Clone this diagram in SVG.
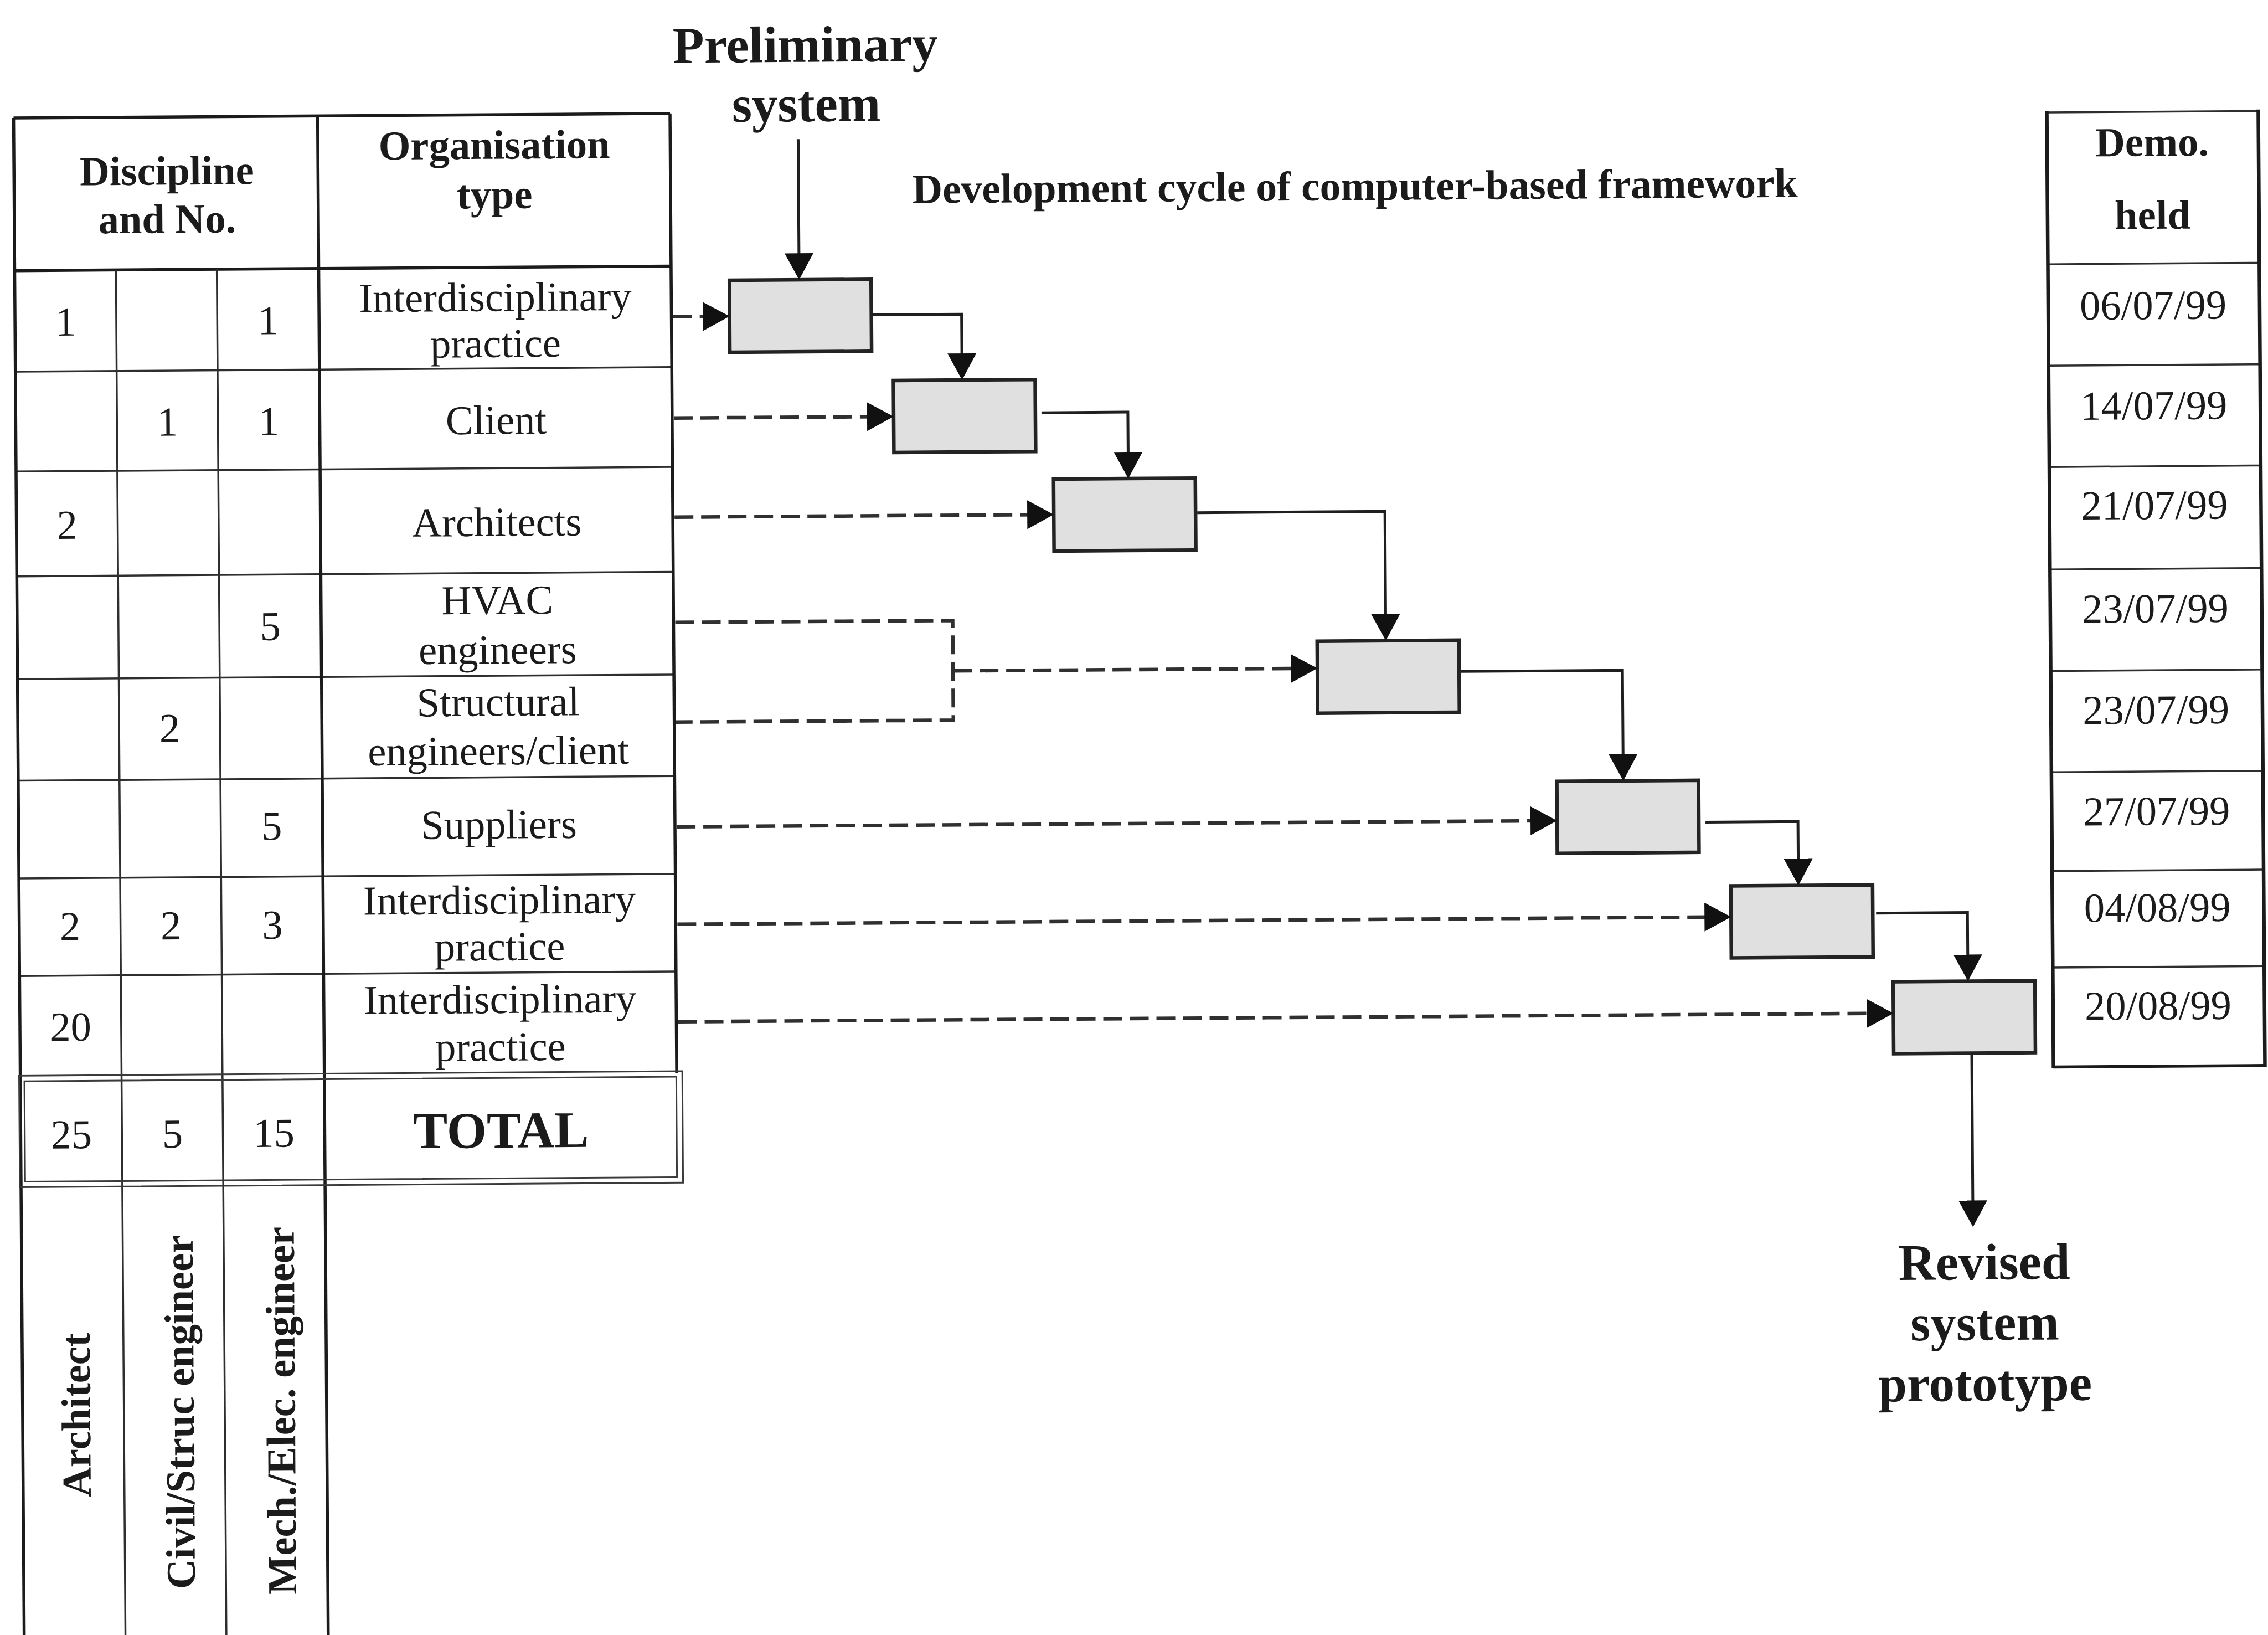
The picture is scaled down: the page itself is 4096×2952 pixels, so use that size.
<svg xmlns="http://www.w3.org/2000/svg" width="4096" height="2952" viewBox="0 0 4096 2952">
  <defs>
    <style>
      .t { font-family: "Liberation Serif", "Times New Roman", serif; font-size: 74.5px; fill: #1b1b1b; text-anchor: middle; }
      .b { font-weight: bold; }
      .big { font-size: 93px; font-weight: bold; }
      .thick { stroke: #1b1b1b; stroke-width: 5.5; fill: none; }
      .thin { stroke: #2e2e2e; stroke-width: 3.5; fill: none; }
      .frame { stroke: #3a3a3a; stroke-width: 3; fill: none; }
      .box { fill: #e0e0e0; stroke: #232323; stroke-width: 6.5; }
      .flow { stroke: #1f1f1f; stroke-width: 5; fill: none; marker-end: url(#ah); }
      .dash { stroke: #303030; stroke-width: 6.5; stroke-dasharray: 34 14; fill: none; }
      .dash-arrow { marker-end: url(#ah); }
    </style>
    <marker id="ah" markerUnits="userSpaceOnUse" markerWidth="48" markerHeight="52" viewBox="0 0 48 52" refX="28" refY="26" orient="auto">
      <path d="M0,0 L48,26 L0,52 Z" fill="#111"/>
    </marker>
  </defs>

  <rect x="0" y="0" width="4096" height="2952" fill="#ffffff"/>

  <!-- whole sheet sits at a slight tilt -->
  <g transform="rotate(-0.4 2048 1476)">

    <!-- participants table -->
    <g id="participants-table">
      <g id="table-grid">
        <line class="thick" x1="33.4" y1="199" x2="1218.9" y2="199"/>
        <line class="thick" x1="33.4" y1="474.6" x2="1218.9" y2="474.6"/>
        <line class="thin" x1="33.4" y1="657" x2="1218.9" y2="657"/>
        <line class="thin" x1="33.4" y1="837.2" x2="1218.9" y2="837.2"/>
        <line class="thin" x1="33.4" y1="1026.6" x2="1218.9" y2="1026.6"/>
        <line class="thin" x1="33.4" y1="1212.1" x2="1218.9" y2="1212.1"/>
        <line class="thin" x1="33.4" y1="1395.4" x2="1218.9" y2="1395.4"/>
        <line class="thin" x1="33.4" y1="1572" x2="1218.9" y2="1572"/>
        <line class="thin" x1="33.4" y1="1748.1" x2="1218.9" y2="1748.1"/>
        <line class="thick" x1="33.4" y1="199" x2="33.4" y2="2990"/>
        <line class="thin" x1="216.3" y1="474.6" x2="216.3" y2="2990"/>
        <line class="thin" x1="398.6" y1="474.6" x2="398.6" y2="2990"/>
        <line class="thick" x1="582.5" y1="199" x2="582.5" y2="2990"/>
        <line class="thick" x1="1218.9" y1="199" x2="1218.9" y2="1932"/>
        <!-- double frame round the totals row -->
        <rect class="frame" x="31.3" y="1928.3" width="1197.7" height="201.2"/>
        <rect class="frame" x="40.8" y="1938.2" width="1177.3" height="181.4"/>
      </g>

      <g id="table-header">
        <text class="t b" x="309.5" y="321.3">Discipline</text>
        <text class="t b" x="309.5" y="408.3">and No.</text>
        <text class="t b" x="901" y="278.7">Organisation</text>
        <text class="t b" x="901" y="368.1">type</text>
      </g>

      <g id="row-1">
        <text class="t" x="125" y="592.4">1</text>
        <text class="t" x="490.6" y="592.4">1</text>
        <text class="t" x="901" y="553.5">Interdisciplinary</text>
        <text class="t" x="901" y="636.9">practice</text>
      </g>
      <g id="row-2">
        <text class="t" x="307.5" y="774.5">1</text>
        <text class="t" x="490.6" y="774.5">1</text>
        <text class="t" x="901" y="775.5">Client</text>
      </g>
      <g id="row-3">
        <text class="t" x="125" y="959.5">2</text>
        <text class="t" x="901" y="959.7">Architects</text>
      </g>
      <g id="row-4">
        <text class="t" x="490.6" y="1144.9">5</text>
        <text class="t" x="901" y="1100.5">HVAC</text>
        <text class="t" x="901" y="1190.1">engineers</text>
      </g>
      <g id="row-5">
        <text class="t" x="307.5" y="1327.8">2</text>
        <text class="t" x="901" y="1284.4">Structural</text>
        <text class="t" x="901" y="1372.4">engineers/client</text>
      </g>
      <g id="row-6">
        <text class="t" x="490.6" y="1505.5">5</text>
        <text class="t" x="901" y="1505.7">Suppliers</text>
      </g>
      <g id="row-7">
        <text class="t" x="125" y="1684.1">2</text>
        <text class="t" x="307.5" y="1684.1">2</text>
        <text class="t" x="490.6" y="1684.1">3</text>
        <text class="t" x="901" y="1641.8">Interdisciplinary</text>
        <text class="t" x="901" y="1725.9">practice</text>
      </g>
      <g id="row-8">
        <text class="t" x="125" y="1865.6">20</text>
        <text class="t" x="901" y="1821.2">Interdisciplinary</text>
        <text class="t" x="901" y="1906.9">practice</text>
      </g>
      <g id="row-total">
        <text class="t" x="125" y="2060">25</text>
        <text class="t" x="307.5" y="2060">5</text>
        <text class="t" x="490.6" y="2060">15</text>
        <text class="t big" x="901" y="2064">TOTAL</text>
      </g>

      <g id="discipline-names">
        <text class="t b" transform="translate(155.4 2541.4) rotate(-90)">Architect</text>
        <text class="t b" transform="translate(342.5 2537.5) rotate(-90)">Civil/Struc engineer</text>
        <text class="t b" transform="translate(525.3 2536.2) rotate(-90)">Mech./Elec. engineer</text>
      </g>
    </g>

    <!-- demonstration dates -->
    <g id="demo-dates">
      <line class="thin" x1="3705.4" y1="214.5" x2="4087.3" y2="214.5"/>
      <line class="thin" x1="3705.4" y1="488.7" x2="4087.3" y2="488.7"/>
      <line class="thin" x1="3705.4" y1="671.9" x2="4087.3" y2="671.9"/>
      <line class="thin" x1="3705.4" y1="854.7" x2="4087.3" y2="854.7"/>
      <line class="thin" x1="3705.4" y1="1039.9" x2="4087.3" y2="1039.9"/>
      <line class="thin" x1="3705.4" y1="1223" x2="4087.3" y2="1223"/>
      <line class="thin" x1="3705.4" y1="1405.9" x2="4087.3" y2="1405.9"/>
      <line class="thin" x1="3705.4" y1="1584.3" x2="4087.3" y2="1584.3"/>
      <line class="thin" x1="3705.4" y1="1758.5" x2="4087.3" y2="1758.5"/>
      <line class="thick" x1="3705.4" y1="1938" x2="4087.3" y2="1938"/>
      <line class="thick" x1="3705.4" y1="212" x2="3705.4" y2="1940.5" style="stroke-width:6.5"/>
      <line class="thick" x1="4087.3" y1="212" x2="4087.3" y2="1940.5" style="stroke-width:6.5"/>
      <text class="t b" x="3895" y="294.4">Demo.</text>
      <text class="t b" x="3895" y="426">held</text>
      <text class="t" x="3895" y="589">06/07/99</text>
      <text class="t" x="3895" y="770">14/07/99</text>
      <text class="t" x="3895" y="950">21/07/99</text>
      <text class="t" x="3895" y="1136.5">23/07/99</text>
      <text class="t" x="3895" y="1319.5">23/07/99</text>
      <text class="t" x="3895" y="1502.5">27/07/99</text>
      <text class="t" x="3895" y="1676.5">04/08/99</text>
      <text class="t" x="3895" y="1853.5">20/08/99</text>
    </g>

    <!-- captions -->
    <g id="label-preliminary">
      <text class="t big" x="1464" y="107.6">Preliminary</text>
      <text class="t big" x="1465" y="215">system</text>
    </g>
    <g id="title">
      <text class="t b" x="1655.6" y="364.1" style="text-anchor:start;font-size:75.5px">Development cycle of computer-based framework</text>
    </g>
    <g id="label-revised">
      <text class="t big" x="3578" y="2320.7">Revised</text>
      <text class="t big" x="3578" y="2430.1">system</text>
      <text class="t big" x="3578" y="2539.8">prototype</text>
    </g>

    <!-- development stages -->
    <g id="stage-1"><rect class="box" x="1324" y="501" width="256" height="130"/></g>
    <g id="stage-2"><rect class="box" x="1619" y="684" width="256" height="130"/></g>
    <g id="stage-3"><rect class="box" x="1907" y="864" width="256" height="130"/></g>
    <g id="stage-4"><rect class="box" x="2381" y="1160" width="256" height="130"/></g>
    <g id="stage-5"><rect class="box" x="2812" y="1416" width="256" height="130"/></g>
    <g id="stage-6"><rect class="box" x="3125" y="1607" width="256" height="130"/></g>
    <g id="stage-7"><rect class="box" x="3417" y="1782" width="256" height="130"/></g>

    <!-- connectors -->
    <g id="connectors">
      <!-- stage to stage -->
      <path class="flow" d="M1450,247 V481"/>
      <path class="flow" d="M1580,565 H1743 V664"/>
      <path class="flow" d="M1886,744 H2042 V844"/>
      <path class="flow" d="M2166,926.5 H2505 V1140"/>
      <path class="flow" d="M2640,1216.5 H2932 V1396"/>
      <path class="flow" d="M3080,1491.6 H3247 V1587"/>
      <path class="flow" d="M3387,1658 H3552 V1762"/>
      <path class="flow" d="M3558,1912 V2206"/>
      <!-- feedback from participants -->
      <path class="dash dash-arrow" d="M1222,566 H1304"/>
      <path class="dash dash-arrow" d="M1222,749 H1599"/>
      <path class="dash dash-arrow" d="M1222,928 H1887"/>
      <path class="dash" d="M1222,1118 H1723 V1298 H1222"/>
      <path class="dash dash-arrow" d="M1723,1209 H2361"/>
      <path class="dash dash-arrow" d="M1222,1487 H2792"/>
      <path class="dash dash-arrow" d="M1222,1663 H3105"/>
      <path class="dash dash-arrow" d="M1222,1839 H3397"/>
    </g>
  </g>
</svg>
